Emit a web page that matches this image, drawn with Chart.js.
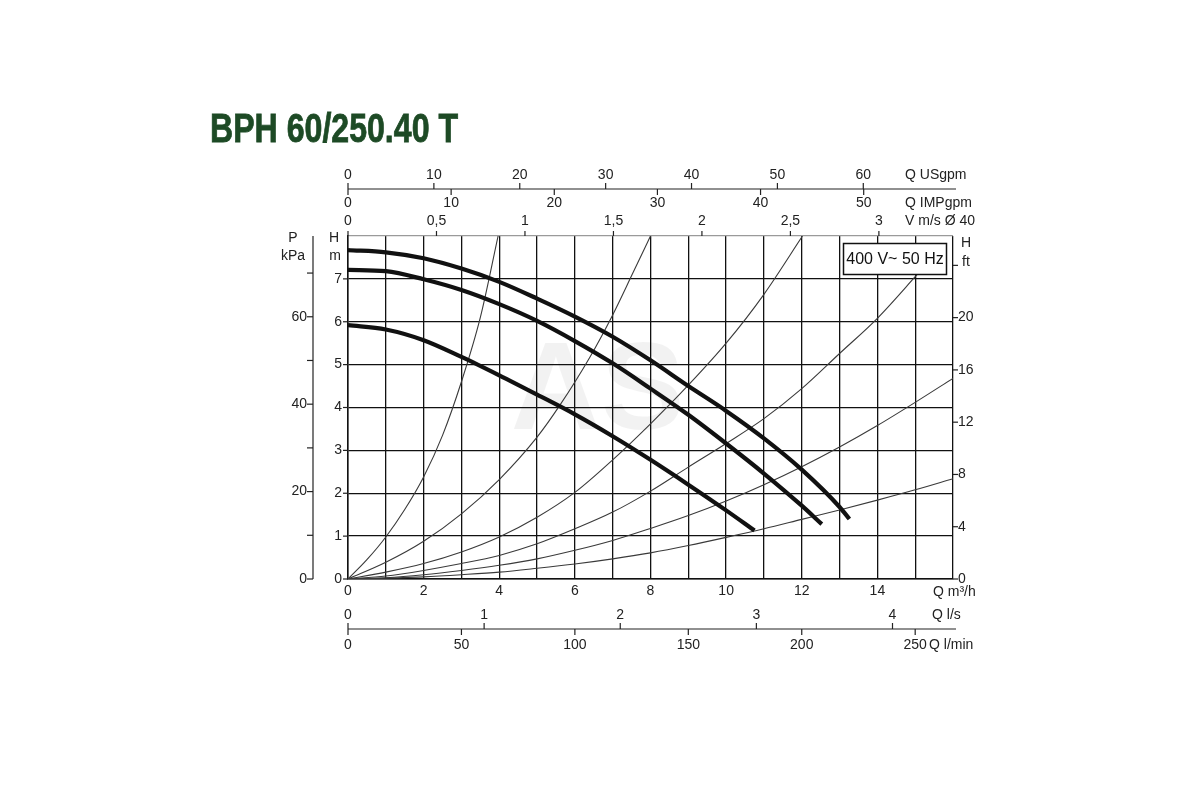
<!DOCTYPE html>
<html>
<head>
<meta charset="utf-8">
<title>BPH 60/250.40 T</title>
<script src="https://cdn.jsdelivr.net/npm/chart.js@4.4.1/dist/chart.umd.min.js"></script>
<style>
    html, body { margin: 0; padding: 0; background: #fff; }
    #wrap { width: 1200px; height: 800px; }
</style>
</head>
<body>
<div id="wrap"><canvas id="pumpChart" width="1200" height="800"></canvas></div>
<script>
// Pump curves, Q in m3/h, H in m (three speeds)
const speed3Q = [0, 1, 2, 3, 4, 5, 6, 7, 8, 9, 10, 11, 12, 13, 13.26];
const speed3H = [7.67, 7.62, 7.48, 7.24, 6.93, 6.54, 6.12, 5.65, 5.1, 4.5, 3.92, 3.28, 2.55, 1.68, 1.4];
const speed2Q = [0, 1, 2, 3, 4, 5, 6, 7, 8, 9, 10, 11, 12, 12.53];
const speed2H = [7.21, 7.18, 6.99, 6.74, 6.41, 6.02, 5.55, 5.03, 4.44, 3.83, 3.16, 2.46, 1.71, 1.28];
const speed1Q = [0, 1, 2, 3, 4, 5, 6, 7, 8, 9, 10, 10.75];
const speed1H = [5.92, 5.82, 5.57, 5.18, 4.75, 4.3, 3.84, 3.33, 2.78, 2.2, 1.6, 1.13];

// System (resistance) curves
const sys1Q = [0, 0.5, 1, 1.5, 2, 2.5, 3, 3.5, 3.97];
const sys1H = [0, 0.45, 0.98, 1.62, 2.38, 3.35, 4.6, 6.1, 8];
const sys2Q = [0, 1, 2, 3, 4, 5, 5.6, 6.4, 7, 7.53, 8];
const sys2H = [0, 0.39, 0.88, 1.52, 2.32, 3.31, 4.05, 5.18, 6.16, 7.13, 8];
const sys3Q = [0, 1, 2, 3, 4, 5, 6, 7, 8, 9, 10, 11, 12.02];
const sys3H = [0, 0.16, 0.36, 0.63, 0.98, 1.44, 2.02, 2.78, 3.62, 4.52, 5.5, 6.64, 8];
const sys4Q = [0, 1, 2, 3, 4, 5, 6, 7, 8, 9, 10, 11, 12, 13, 14, 15, 15.75];
const sys4H = [0, 0.07, 0.2, 0.36, 0.55, 0.82, 1.17, 1.56, 2.05, 2.61, 3.16, 3.74, 4.44, 5.26, 6.08, 7.05, 7.8];
const sys5Q = [0, 1, 2, 3, 4, 5, 6, 7, 8, 9, 10, 11, 12, 13, 14, 15, 16];
const sys5H = [0, 0.03, 0.1, 0.2, 0.32, 0.47, 0.67, 0.9, 1.18, 1.48, 1.82, 2.2, 2.62, 3.08, 3.58, 4.12, 4.68];
const sys6Q = [0, 1, 2, 3, 4, 5, 6, 7, 8, 9, 10, 11, 12, 13, 14, 15, 16];
const sys6H = [0, 0.02, 0.05, 0.1, 0.16, 0.25, 0.35, 0.47, 0.61, 0.78, 0.97, 1.17, 1.39, 1.61, 1.84, 2.08, 2.34];

// Tick labels of the main and secondary axes
const flowTicks = [0, 2, 4, 6, 8, 10, 12, 14];
const headTicks = [0, 1, 2, 3, 4, 5, 6, 7];
const usgpmTicks = [0, 10, 20, 30, 40, 50, 60];
const impgpmTicks = [0, 10, 20, 30, 40, 50];
const velocityTicks = [0, 0.5, 1, 1.5, 2, 2.5, 3];
const lpsTicks = [0, 1, 2, 3, 4];
const lpmTicks = [0, 50, 100, 150, 200, 250];
const kpaTicks = [0, 10, 20, 30, 40, 50, 60, 70];
const kpaLabels = [0, 20, 40, 60];
const ftTicks = [0, 4, 8, 12, 16, 20, 24];
const ftLabels = [0, 4, 8, 12, 16, 20];

// unit conversions to m3/h and m
const USGPM_PER_M3H = 4.4029;
const IMPGPM_PER_M3H = 3.6662;
const M3H_PER_MS = 4.68;   // velocity in DN40 pipe
const KPA_PER_M = 9.81;
const FT_PER_M = 3.2808;

const TEXT_FONT = '14px "Liberation Sans", Arial, sans-serif';
const TEXT_COLOR = '#222';

function toPoints(qs, hs) {
    return qs.map((q, i) => ({ x: q, y: hs[i] }));
}

function pumpSet(qs, hs) {
    return {
        data: toPoints(qs, hs),
        showLine: true,
        borderColor: '#111',
        borderWidth: 4.2,
        pointRadius: 0,
        cubicInterpolationMode: 'monotone'
    };
}

function systemSet(qs, hs) {
    return {
        data: toPoints(qs, hs),
        showLine: true,
        borderColor: '#3a3a3a',
        borderWidth: 1.1,
        pointRadius: 0,
        cubicInterpolationMode: 'monotone'
    };
}

function fmtComma(v) {
    return String(v).replace('.', ',');
}

// draws a row of ticks along a horizontal line, positions taken from the x scale
function flowAxisRow(ctx, xs, yLine, ticks, toFlow, tickLen, labelY, fmt) {
    ticks.forEach(t => {
        const px = xs.getPixelForValue(toFlow(t));
        ctx.beginPath();
        ctx.moveTo(px, yLine);
        ctx.lineTo(px, yLine + tickLen);
        ctx.stroke();
        ctx.fillText(fmt ? fmt(t) : String(t), px, labelY);
    });
}

const chartDecor = {
    id: 'chartDecor',
    beforeDraw(chart) {
        const { ctx } = chart;
        const xs = chart.scales.x, ys = chart.scales.y;
        ctx.save();
        ctx.fillStyle = '#fff';
        ctx.fillRect(0, 0, chart.width, chart.height);
        // faint watermark behind the grid
        ctx.fillStyle = 'rgba(0,0,0,0.05)';
        ctx.font = 'bold 125px "Liberation Sans", Arial, sans-serif';
        ctx.textAlign = 'center';
        ctx.textBaseline = 'middle';
        ctx.fillText('AS', xs.getPixelForValue(6.6), ys.getPixelForValue(4.3));
        ctx.restore();
    },
    afterDraw(chart) {
        const { ctx, chartArea: a } = chart;
        const xs = chart.scales.x, ys = chart.scales.y;
        ctx.save();
        ctx.strokeStyle = '#222';
        ctx.lineWidth = 1.2;
        ctx.fillStyle = TEXT_COLOR;
        ctx.font = TEXT_FONT;
        ctx.textBaseline = 'middle';
        ctx.textAlign = 'center';

        // title
        ctx.save();
        ctx.font = 'bold 41px "Liberation Sans Narrow", "Liberation Sans", Arial, sans-serif';
        ctx.fillStyle = '#1d4a25';
        ctx.strokeStyle = '#1d4a25';
        ctx.lineWidth = 0.8;
        ctx.textAlign = 'left';
        ctx.textBaseline = 'alphabetic';
        const title = 'BPH 60/250.40 T';
        const tw = ctx.measureText(title).width;
        ctx.translate(210, 142);
        ctx.scale(248 / tw, 1);
        ctx.fillText(title, 0, 0);
        ctx.strokeText(title, 0, 0);
        ctx.restore();

        // bottom: m3/h labels under the grid
        flowTicks.forEach(q => {
            ctx.fillText(String(q), xs.getPixelForValue(q), a.bottom + 12);
        });

        // top line: USgpm above, IMPgpm below
        const topLine = 189;
        ctx.beginPath();
        ctx.moveTo(a.left, topLine);
        ctx.lineTo(a.right + 3, topLine);
        ctx.stroke();
        flowAxisRow(ctx, xs, topLine, usgpmTicks, v => v / USGPM_PER_M3H, -6, 175);
        flowAxisRow(ctx, xs, topLine, impgpmTicks, v => v / IMPGPM_PER_M3H, 6, 203);
        // velocity ticks on the top edge of the plot
        flowAxisRow(ctx, xs, a.top, velocityTicks, v => v * M3H_PER_MS, -5, 221, fmtComma);

        // bottom line: l/s above, l/min below
        const botLine = 629;
        ctx.beginPath();
        ctx.moveTo(a.left, botLine);
        ctx.lineTo(a.right + 3, botLine);
        ctx.stroke();
        flowAxisRow(ctx, xs, botLine, lpsTicks, v => v * 3.6, -6, 615);
        flowAxisRow(ctx, xs, botLine, lpmTicks, v => v * 0.06, 6, 645);

        // left: H m
        ctx.textAlign = 'right';
        headTicks.forEach(h => {
            const py = ys.getPixelForValue(h);
            ctx.beginPath();
            ctx.moveTo(a.left - 5, py);
            ctx.lineTo(a.left, py);
            ctx.stroke();
            ctx.fillText(String(h), a.left - 6, py);
        });

        // far left: P kPa
        const pAxis = 313;
        ctx.beginPath();
        ctx.moveTo(pAxis, a.top);
        ctx.lineTo(pAxis, a.bottom);
        ctx.stroke();
        kpaTicks.forEach(p => {
            const py = ys.getPixelForValue(p / KPA_PER_M);
            ctx.beginPath();
            ctx.moveTo(pAxis - 6, py);
            ctx.lineTo(pAxis, py);
            ctx.stroke();
            if (kpaLabels.includes(p)) ctx.fillText(String(p), pAxis - 6, py);
        });

        // right: H ft
        ctx.textAlign = 'left';
        ftTicks.forEach(f => {
            const py = ys.getPixelForValue(f / FT_PER_M);
            ctx.beginPath();
            ctx.moveTo(a.right, py);
            ctx.lineTo(a.right + 5, py);
            ctx.stroke();
            if (ftLabels.includes(f)) ctx.fillText(String(f), a.right + 5, py);
        });

        // unit names
        ctx.fillText('Q USgpm', 905, 175);
        ctx.fillText('Q IMPgpm', 905, 203);
        ctx.fillText('V m/s \u00d8 40', 905, 221);
        ctx.fillText('Q m\u00b3/h', 933, a.bottom + 13);
        ctx.fillText('Q l/s', 932, 615);
        ctx.fillText('Q l/min', 929, 645);
        ctx.textAlign = 'center';
        ctx.fillText('P', 293, 238);
        ctx.fillText('kPa', 293, 256);
        ctx.fillText('H', 334, 238);
        ctx.fillText('m', 335, 256);
        ctx.fillText('H', 966, 243);
        ctx.fillText('ft', 966, 262);

        // supply box
        ctx.fillStyle = '#fff';
        ctx.fillRect(843.5, 243.5, 103, 31);
        ctx.strokeStyle = '#111';
        ctx.lineWidth = 1.5;
        ctx.strokeRect(843.5, 243.5, 103, 31);
        ctx.fillStyle = '#111';
        ctx.font = '16px "Liberation Sans", Arial, sans-serif';
        ctx.fillText('400 V~ 50 Hz', 895, 259.5);
        ctx.restore();
    }
};

new Chart(document.getElementById('pumpChart'), {
    type: 'scatter',
    data: {
        datasets: [
            pumpSet(speed3Q, speed3H),
            pumpSet(speed2Q, speed2H),
            pumpSet(speed1Q, speed1H),
            systemSet(sys1Q, sys1H),
            systemSet(sys2Q, sys2H),
            systemSet(sys3Q, sys3H),
            systemSet(sys4Q, sys4H),
            systemSet(sys5Q, sys5H),
            systemSet(sys6Q, sys6H)
        ]
    },
    options: {
        responsive: false,
        animation: false,
        layout: { padding: { left: 348, right: 247, top: 236, bottom: 221 } },
        plugins: {
            legend: { display: false },
            tooltip: { enabled: false }
        },
        scales: {
            x: {
                type: 'linear',
                min: 0,
                max: 16,
                ticks: { display: false, stepSize: 1 },
                grid: { color: '#111', lineWidth: 1.3, drawTicks: false },
                border: { display: true, color: '#111', width: 1.5 }
            },
            y: {
                type: 'linear',
                min: 0,
                max: 8,
                ticks: { display: false, stepSize: 1 },
                grid: {
                    color: ctx => ctx.tick.value === 8 ? '#9a9a9a' : '#111',
                    lineWidth: 1.3,
                    drawTicks: false
                },
                border: { display: true, color: '#111', width: 1.5 }
            }
        }
    },
    plugins: [chartDecor]
});
</script>
</body>
</html>
